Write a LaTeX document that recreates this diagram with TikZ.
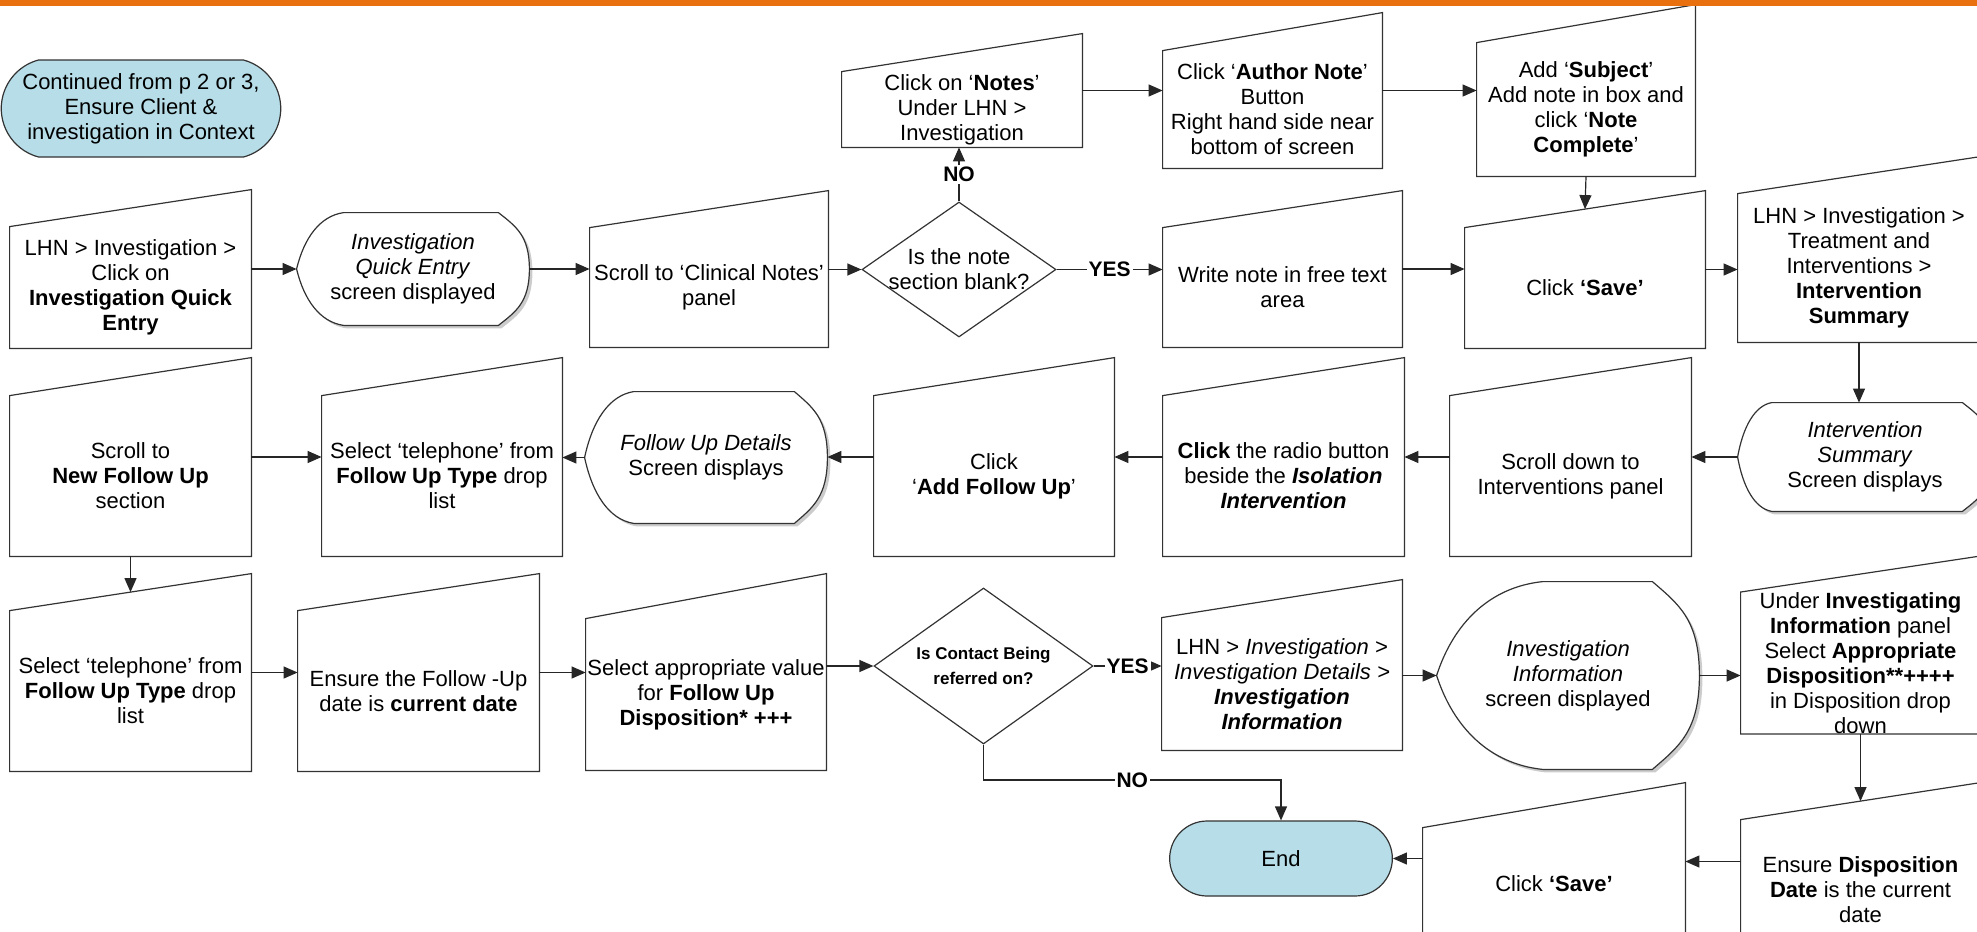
\documentclass[tikz,border=0pt]{standalone}
\usepackage{fontspec}
\setmainfont{Liberation Sans}
\usetikzlibrary{arrows.meta,positioning,calc,shapes.geometric,shapes.misc,backgrounds}
\definecolor{termblue}{HTML}{B7DEE8}
\definecolor{barorange}{HTML}{E8700E}
\newcommand{\fs}{\fontsize{11}{12.5}\selectfont}
% display outline: node, left bulge, right bulge, height (px)
\newcommand{\disppath}[4]{([shift={(#2,0)}]#1.north west) -- ([shift={(-#3,0)}]#1.north east)
  .. controls ([shift={(-0.45*#3,0.12*#4)}]#1.north east) and ([shift={(0,-0.3*#4)}]#1.east) .. (#1.east)
  .. controls ([shift={(0,0.3*#4)}]#1.east) and ([shift={(-0.45*#3,-0.12*#4)}]#1.south east) .. ([shift={(-#3,0)}]#1.south east)
  -- ([shift={(#2,0)}]#1.south west)
  .. controls ([shift={(0.5*#2,-0.03*#4)}]#1.south west) and ([shift={(0.16*#2,0.28*#4)}]#1.west) .. (#1.west)
  .. controls ([shift={(0.16*#2,-0.28*#4)}]#1.west) and ([shift={(0.5*#2,0.03*#4)}]#1.north west) .. ([shift={(#2,0)}]#1.north west) -- cycle}
\tikzset{
  >={Triangle[length=7pt,width=6pt]},
  sized/.style 2 args={inner sep=0pt,minimum width={#1*0.5pt},minimum height={#2*0.5pt}},
  outl/.style={draw=black!80,line width=0.6pt},
  dec/.style={diamond,outl,inner sep=-4pt,aspect=1.44},
  term/.style={rounded rectangle,outl,fill=termblue},
  lab/.style={font=\fontsize{10.5}{12}\selectfont\bfseries,fill=white,inner sep=1pt},
  arr/.style={->,draw=black!85,line width=0.6pt},
}

\begin{document}
\begin{tikzpicture}[x=0.5pt,y=-0.5pt,every node/.style={font=\fs,align=center}]
\useasboundingbox (0,0) rectangle (1977,932);
\fill[barorange] (0,0) rectangle (1977,6);

% top row
\node[term,rounded rectangle arc length=150,minimum width=131pt,minimum height=48.5pt] (start) at (141,108.5) {Continued from p 2 or 3,\\Ensure Client \&\\investigation in Context};
\node[sized={240}{75}] (notes) at (962,109.5) {Click on `\textbf{Notes}'\\Under LHN >\\Investigation};
\node[sized={219}{117}] (author) at (1272.5,109.5) {Click `\textbf{Author Note}'\\Button\\Right hand side near\\bottom of screen};
\node[sized={218}{133}] (subject) at (1586,109.5) {Add `\textbf{Subject}'\\Add note in box and\\click `\textbf{Note}\\\textbf{Complete}'};

% row 1
\node[sized={241}{121}] (lhn) at (130.5,287.5) {LHN > Investigation >\\Click on\\\textbf{Investigation Quick}\\\textbf{Entry}};
\node[sized={232}{112}] (qkentry) at (413,269) {\textit{Investigation}\\\textit{Quick Entry}\\screen displayed};
\node[sized={238}{119}] (scrollcn) at (709,287.5) {Scroll to `Clinical Notes'\\panel};
\node[dec,minimum width=97pt,minimum height=67.5pt] (blank) at (959,269.5) {Is the note\\section blank?};
\node[sized={239}{119}] (freetext) at (1282.5,287.5) {Write note in free text\\area};
\node[sized={240}{120}] (save1) at (1585,288) {Click \textbf{`Save'}};
\node[sized={242}{148}] (treat) at (1859,268) {LHN > Investigation >\\Treatment and\\Interventions >\\\textbf{Intervention}\\\textbf{Summary}};

% row 2
\node[sized={254}{108}] (intsum) at (1865,457) {\textit{Intervention}\\\textit{Summary}\\Screen displays};
\node[sized={241}{160}] (scrolldown) at (1570.5,476) {Scroll down to\\Interventions panel};
\node[sized={241}{160}] (radio) at (1283.5,476) {\textbf{Click} the radio button\\beside the \textbf{\textit{Isolation}}\\\textbf{\textit{Intervention}}};
\node[sized={240}{160}] (addfu) at (994,476) {Click\\`\textbf{Add Follow Up}'};
\node[sized={242}{131}] (fudet) at (706,457.5) {\textit{Follow Up Details}\\Screen displays};
\node[sized={240}{160}] (tel1) at (442,476) {Select `telephone' from\\\textbf{Follow Up Type} drop\\list};
\node[sized={241}{160}] (newfu) at (130.5,476) {Scroll to\\\textbf{New Follow Up}\\section};

% row 3
\node[sized={241}{160}] (tel2) at (130.5,691) {Select `telephone' from\\\textbf{Follow Up Type} drop\\list};
\node[sized={241}{160}] (fudate) at (418.5,691) {Ensure the Follow -Up\\date is \textbf{current date}};
\node[sized={240}{151}] (fudisp) at (706,694.5) {Select appropriate value\\for \textbf{Follow Up}\\\textbf{Disposition* +++}};
\node[dec,minimum width=109.5pt,minimum height=78pt,font=\fontsize{8.5}{12.5}\selectfont\bfseries] (referred) at (983.5,666) {Is Contact Being\\referred on?};
\node[sized={240}{132}] (invdet) at (1282,684) {LHN > \textit{Investigation >}\\\textit{Investigation Details >}\\\textbf{\textit{Investigation}}\\\textbf{\textit{Information}}};
\node[sized={262}{187}] (invinfo) at (1568,675.5) {\textit{Investigation}\\\textit{Information}\\screen displayed};
\node[sized={239}{140}] (disp) at (1860.5,663) {Under \textbf{Investigating}\\\textbf{Information} panel\\Select \textbf{Appropriate}\\\textbf{Disposition**++++}\\in Disposition drop\\down};

% bottom row
\node[sized={239}{140}] (dispdate) at (1860.5,890) {Ensure \textbf{Disposition}\\\textbf{Date} is the current\\date};
\node[sized={262}{112}] (save2) at (1554,884) {Click \textbf{`Save'}};
\node[term,minimum width=118pt,minimum height=37.5pt] (finish) at (1281,858.5) {End};

% outlines
\begin{scope}[on background layer]
\foreach \n/\s in {lhn/37,scrollcn/37,notes/38,author/38,subject/38,freetext/37,save1/37,treat/37,
    scrolldown/38,radio/38,addfu/38,tel1/38,newfu/38,tel2/37,fudate/37,fudisp/45,invdet/38,disp/36,dispdate/37,save2/45}{
  \draw[outl] (\n.south west) -- (\n.south east) -- ([shift={(0,-\s)}]\n.north east) -- (\n.north west) -- cycle;
  \coordinate (t-\n) at ([shift={(0,-\s/2)}]\n.north);
  \coordinate (l-\n) at ([shift={(0,-\s/2)}]\n.west);
  \coordinate (r-\n) at ([shift={(0,-\s/2)}]\n.east);
}
\foreach \n/\l/\r/\h in {qkentry/47/31/112,fudet/49/33/131,intsum/34/30/108,invinfo/106/47/187}{
  \fill[black!20,transform canvas={shift={(1.5pt,-1.5pt)}}] \disppath{\n}{\l}{\r}{\h};
  \draw[outl,fill=white] \disppath{\n}{\l}{\r}{\h};
}
\end{scope}

% connectors
\draw[arr] (r-lhn) -- (r-lhn -| qkentry.west);
\draw[arr] (qkentry.east) -- (qkentry.east -| scrollcn.west);
\draw[arr] (scrollcn.east |- blank.west) -- (blank.west);
\draw[arr] (blank.north) -- node[lab]{NO} (blank.north |- notes.south);
\draw[arr] (blank.east) -- node[lab]{YES} (blank.east -| freetext.west);
\draw[arr] (r-notes) -- (r-notes -| author.west);
\draw[arr] (r-author) -- (r-author -| subject.west);
\draw[arr] (subject.south) -- (t-save1);
\draw[arr] (r-freetext) -- (r-freetext -| save1.west);
\draw[arr] (r-save1) -- (r-save1 -| treat.west);
\draw[arr] (treat.south) -- (treat.south |- intsum.north);
\draw[arr] (intsum.west) -- (intsum.west -| scrolldown.east);
\draw[arr] (l-scrolldown) -- (l-scrolldown -| radio.east);
\draw[arr] (l-radio) -- (l-radio -| addfu.east);
\draw[arr] (l-addfu) -- (l-addfu -| fudet.east);
\draw[arr] (fudet.west) -- (fudet.west -| tel1.east);
\draw[arr] (r-newfu) -- (r-newfu -| tel1.west);
\draw[arr] (newfu.south) -- (t-tel2);
\draw[arr] (r-tel2) -- (r-tel2 -| fudate.west);
\draw[arr] (r-fudate) -- (r-fudate -| fudisp.west);
\draw[arr] (fudisp.east |- referred.west) -- (referred.west);
\draw[arr] (referred.east) -- node[lab]{YES} (referred.east -| invdet.west);
\coordinate (nobend) at (1281,780);
\draw[arr] (referred.south) |- node[lab,pos=0.75]{NO} (nobend) -- (finish.north);
\draw[arr] (invdet.east |- invinfo.west) -- (invinfo.west);
\draw[arr] (invinfo.east) -- (invinfo.east -| disp.west);
\draw[arr] (disp.south) -- (t-dispdate);
\draw[arr] (dispdate.west |- r-save2) -- (r-save2);
\draw[arr] (save2.west |- finish.east) -- (finish.east);
\end{tikzpicture}
\end{document}
